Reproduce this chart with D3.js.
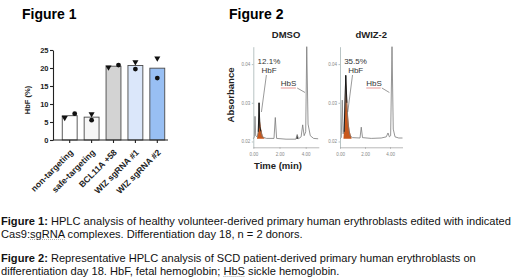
<!DOCTYPE html>
<html>
<head>
<meta charset="utf-8">
<script src="https://cdn.jsdelivr.net/npm/d3@7"></script>
<style>
  body { margin: 0; background: #fff; }
  svg { display: block; font-family: "Liberation Sans", Arial, sans-serif; }
</style>
</head>
<body>
<svg id="chart" width="520" height="279"></svg>
<script>
// Figure 1 data: HbF (%) per guide, two donors
const categories = ["non-targeting", "safe-targeting", "BCL11A +58", "WIZ sgRNA #1", "WIZ sgRNA #2"];
const hbfMean = [6.75, 6.35, 20.5, 20.7, 19.95];
const donorA = [6.2, 7.2, 20.2, 21.7, 22.7];   // triangles
const donorB = [7.3, 5.5, 20.8, 19.7, 17.2];   // circles
const yTicks = [0, 5, 10, 15, 20, 25];

// Figure 2 data: chromatogram traces [time (min), absorbance]
const dmsoTrace = [[0.0, 0.0207], [0.08, 0.0212], [0.13, 0.0265], [0.18, 0.0215], [0.3, 0.0212], [0.38, 0.0225],
  [0.44, 0.0300], [0.50, 0.0238], [0.58, 0.0226], [0.7, 0.0212], [1.0, 0.0208], [1.58, 0.0208], [1.68, 0.0262],
  [1.78, 0.0208], [2.5, 0.0206], [3.25, 0.0206], [3.35, 0.0218], [3.45, 0.0207], [3.65, 0.0212], [3.77, 0.0243],
  [3.88, 0.0215], [4.0, 0.0225], [4.08, 0.0445], [4.18, 0.0245], [4.35, 0.0215], [4.6, 0.0208], [4.95, 0.0207]];
const dmsoHbF = [[0.28, 0.0208], [0.35, 0.0222], [0.42, 0.0262], [0.5, 0.0255], [0.6, 0.0232], [0.72, 0.0214], [0.85, 0.0208]];
const dmsoMinor = [[3.27, 0.0207], [3.35, 0.0218], [3.43, 0.0207]];
const dwizTrace = [[0.0, 0.0207], [0.1, 0.021], [0.18, 0.0307], [0.25, 0.022], [0.33, 0.0225], [0.46, 0.0371],
  [0.55, 0.0300], [0.65, 0.0245], [0.8, 0.0215], [1.0, 0.021], [1.6, 0.0209], [1.7, 0.0237], [1.8, 0.021],
  [2.5, 0.0208], [3.3, 0.0209], [3.7, 0.0212], [3.84, 0.0222], [3.95, 0.0212], [4.05, 0.0215], [4.16, 0.0445],
  [4.26, 0.0232], [4.4, 0.0212], [4.7, 0.0209], [5.0, 0.0209]];
const dwizHbF = [[0.28, 0.0209], [0.38, 0.0255], [0.47, 0.0362], [0.55, 0.0315], [0.65, 0.0262], [0.76, 0.0228], [0.92, 0.0210]];
const absTicks = [0.02, 0.03, 0.04];
const timeTicks = [0, 2, 4];
const panels = [
  { name: "DMSO", pct: "12.1%", trace: dmsoTrace, hbf: dmsoHbF, minor: dmsoMinor },
  { name: "dWIZ-2", pct: "35.5%", trace: dwizTrace, hbf: dwizHbF, minor: [] }
];

const svg = d3.select("#chart");

// ---------- Figure 1 ----------
svg.append("text").attr("x", 22).attr("y", 19)
  .attr("font-size", 14).attr("font-weight", "bold").text("Figure 1");

const x = d3.scaleBand().domain(categories).range([57, 170]).paddingInner(0.32).paddingOuter(0.24);
const y = d3.scaleLinear().domain([0, 25]).range([140, 50]);
const fill = d3.scaleOrdinal().domain(categories)
  .range(["#ffffff", "#f6f6f6", "#d3d3d3", "#dbe7fa", "#98bff3"]);

const f1 = svg.append("g");

f1.selectAll("rect.bar").data(categories).join("rect").attr("class", "bar")
  .attr("x", d => x(d)).attr("width", x.bandwidth())
  .attr("y", (d, i) => y(hbfMean[i])).attr("height", (d, i) => y(0) - y(hbfMean[i]))
  .attr("fill", d => fill(d)).attr("stroke", "#4a4a4a").attr("stroke-width", 0.9);

// points: spread sideways if the two donors overlap
const dx = i => Math.abs(donorA[i] - donorB[i]) < 1.5 ? 5 : 0;
const tri = d3.symbol().type(d3.symbolTriangle).size(16);
f1.selectAll("path.tri").data(categories).join("path").attr("class", "tri")
  .attr("d", tri)
  .attr("transform", (d, i) => `translate(${x(d) + x.bandwidth() / 2 - dx(i)},${y(donorA[i])}) rotate(180)`)
  .attr("fill", "#111");
f1.selectAll("circle.dot").data(categories).join("circle").attr("class", "dot")
  .attr("cx", (d, i) => x(d) + x.bandwidth() / 2 + dx(i)).attr("cy", (d, i) => y(donorB[i]))
  .attr("r", 2.4).attr("fill", "#111");

const yAxis = f1.append("g").attr("transform", "translate(53,0)")
  .call(d3.axisLeft(y).tickValues(yTicks).tickSize(3).tickPadding(1.5).tickSizeOuter(0));
yAxis.selectAll("text").attr("font-size", 7.5).attr("font-weight", "bold").attr("fill", "#222");
yAxis.selectAll("line, path").attr("stroke", "#222").attr("stroke-width", 1.1);

const xAxis = f1.append("g").attr("transform", `translate(0,${y(0)})`)
  .call(d3.axisBottom(x).tickSize(3).tickFormat(""));
xAxis.select(".domain").remove();
xAxis.selectAll("line").attr("stroke", "#222").attr("stroke-width", 1.1);
f1.append("line").attr("x1", 53).attr("x2", 168).attr("y1", y(0)).attr("y2", y(0))
  .attr("stroke", "#222").attr("stroke-width", 1.1);

f1.selectAll("text.xlab").data(categories).join("text").attr("class", "xlab")
  .attr("transform", d => `translate(${x(d) + x.bandwidth() / 2 + 4},${y(0) + 13}) rotate(-45)`)
  .attr("text-anchor", "end").attr("font-size", 8.6).attr("font-weight", "bold").attr("fill", "#222")
  .text(d => d);

f1.append("text").attr("transform", "translate(30,100) rotate(-90)")
  .attr("text-anchor", "middle").attr("font-size", 7.5).attr("font-weight", "bold").attr("fill", "#222")
  .text("HbF (%)");

// ---------- Figure 2 ----------
svg.append("text").attr("x", 229).attr("y", 19)
  .attr("font-size", 14).attr("font-weight", "bold").text("Figure 2");

const ay = d3.scaleLinear().domain([0.0185, 0.0445]).range([147.3, 46.7]);
const panelX = [
  d3.scaleLinear().domain([0, 5]).range([253.3, 318.8]),
  d3.scaleLinear().domain([0, 5]).range([340, 402.5])
];

panels.forEach((p, k) => {
  const tx = panelX[k];
  const g = svg.append("g");
  const line = d3.line().x(d => tx(d[0])).y(d => ay(d[1]));
  const area = d3.area().x(d => tx(d[0])).y0(ay(0.0207)).y1(d => ay(d[1]));

  g.append("path").attr("d", area(p.hbf)).attr("fill", "#c8581c");
  if (p.minor.length) g.append("path").attr("d", area(p.minor)).attr("fill", "#111");
  g.append("path").attr("d", line(p.trace)).attr("fill", "none")
    .attr("stroke", "#7a7a7a").attr("stroke-width", 0.8);
  // main HbF peak outline in black
  g.append("path").attr("d", line(p.trace.filter(d => d[0] >= 0.33 && d[0] <= 0.58)))
    .attr("fill", "none").attr("stroke", "#111").attr("stroke-width", 0.9);

  const ya = g.append("g").attr("transform", `translate(${tx(0)},0)`)
    .call(d3.axisLeft(ay).tickValues(absTicks).tickSize(1.5).tickPadding(1.5).tickFormat(d3.format(".2f")).tickSizeOuter(0));
  ya.selectAll("text").attr("font-size", 4.5).attr("fill", "#888");
  ya.selectAll("line, path").attr("stroke", "#9aa").attr("stroke-width", 0.7);

  const xa = g.append("g").attr("transform", `translate(0,${ay.range()[0]})`)
    .call(d3.axisBottom(tx).tickValues(timeTicks).tickSize(1.5).tickPadding(4).tickFormat(d3.format(".2f")).tickSizeOuter(0));
  xa.selectAll("text").attr("font-size", 4.5).attr("fill", "#888");
  xa.selectAll("line, path").attr("stroke", "#999").attr("stroke-width", 0.7);

  const cx = (tx.range()[0] + tx.range()[1]) / 2;
  g.append("text").attr("x", cx).attr("y", 37.5).attr("text-anchor", "middle")
    .attr("font-size", 9.5).attr("font-weight", "bold").attr("fill", "#222").text(p.name);

  // annotations
  const lx = tx(0.25);
  g.append("text").attr("x", lx + 1).attr("y", 63.5).attr("font-size", 8).attr("fill", "#333").text(p.pct);
  g.append("text").attr("x", lx + 5).attr("y", 73).attr("font-size", 8).attr("fill", "#333").text("HbF");
  g.append("line").attr("x1", tx(1.0)).attr("y1", 75).attr("x2", tx(0.62)).attr("y2", 112)
    .attr("stroke", "#555").attr("stroke-width", 0.6);
  g.append("text").attr("x", tx(2.1)).attr("y", 86).attr("font-size", 8).attr("fill", "#333").text("HbS");
  g.append("line").attr("x1", tx(2.1)).attr("x2", tx(3.25)).attr("y1", 88).attr("y2", 88)
    .attr("stroke", "#d9534f").attr("stroke-width", 0.6);
  g.append("line").attr("x1", tx(3.35)).attr("y1", 88).attr("x2", tx(3.95)).attr("y2", 92.5)
    .attr("stroke", "#555").attr("stroke-width", 0.6);
});

svg.append("text").attr("transform", "translate(234,95) rotate(-90)").attr("text-anchor", "middle")
  .attr("font-size", 9.5).attr("font-weight", "bold").attr("fill", "#222").text("Absorbance");
svg.append("text").attr("x", 278).attr("y", 169).attr("text-anchor", "middle")
  .attr("font-size", 9.5).attr("font-weight", "bold").attr("fill", "#222").text("Time (min)");

// ---------- Captions ----------
const captions = [
  { y: 224.5, bold: "Figure 1:", rest: " HPLC analysis of healthy volunteer-derived primary human erythroblasts edited with indicated", mark: "" },
  { y: 237.5, bold: "", rest: "Cas9:sgRNA complexes. Differentiation day 18, n = 2 donors.", mark: "sgRNA" },
  { y: 261.5, bold: "Figure 2:", rest: " Representative HPLC analysis of SCD patient-derived primary human erythroblasts on", mark: "" },
  { y: 274.5, bold: "", rest: "differentiation day 18. HbF, fetal hemoglobin; HbS sickle hemoglobin.", mark: "HbS" }
];
const cap = svg.append("g").attr("font-size", 11.1).attr("fill", "#111");
captions.forEach(c => {
  const t = cap.append("text").attr("x", 1).attr("y", c.y);
  if (c.bold) t.append("tspan").attr("font-weight", "bold").text(c.bold);
  t.append("tspan").text(c.rest);
  if (c.mark) {
    // dotted spell-check underline
    const full = c.bold + c.rest, i0 = full.indexOf(c.mark), node = t.node();
    const xa = node.getStartPositionOfChar(i0).x;
    const xb = node.getEndPositionOfChar(i0 + c.mark.length - 1).x;
    cap.append("line").attr("x1", xa).attr("x2", xb).attr("y1", c.y + 2).attr("y2", c.y + 2)
      .attr("stroke", "#999").attr("stroke-width", 0.8).attr("stroke-dasharray", "1,1");
  }
});
</script>
</body>
</html>
